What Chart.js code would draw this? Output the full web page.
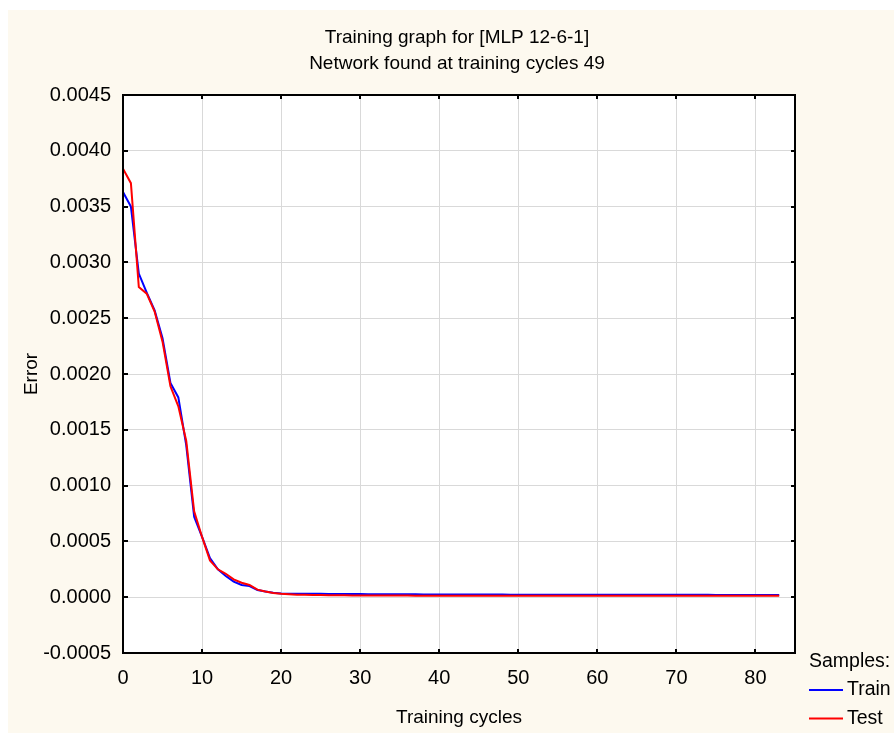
<!DOCTYPE html>
<html>
<head>
<meta charset="utf-8">
<script src="https://cdn.jsdelivr.net/npm/chart.js@4/dist/chart.umd.min.js"></script>
<style>
  html, body { margin: 0; padding: 0; background: #fff; }
  canvas { display: block; }
</style>
</head>
<body>
<canvas id="chart" width="894" height="733"></canvas>
<script>
// training graph - error per cycle, train vs test

const cycles = [
  0, 1, 2, 3, 4, 5, 6, 7, 8, 9, 10, 11, 12, 13, 14, 15, 16, 17, 18, 19,
  20, 21, 22, 23, 24, 25, 26, 27, 28, 29, 30, 31, 32, 33, 34, 35, 36, 37, 38, 39,
  40, 41, 42, 43, 44, 45, 46, 47, 48, 49, 50, 51, 52, 53, 54, 55, 56, 57, 58, 59,
  60, 61, 62, 63, 64, 65, 66, 67, 68, 69, 70, 71, 72, 73, 74, 75, 76, 77, 78, 79,
  80, 81, 82, 83
];

const trainErr = [
  0.00363, 0.00350, 0.00290, 0.00273, 0.00257, 0.00232, 0.00192, 0.00179, 0.00136, 0.00072,
  0.00054, 0.00035, 0.00025, 0.00019, 0.00014, 0.00011, 0.000100, 0.000065, 0.000052, 0.000040,
  0.000034, 0.000032, 0.000031, 0.000031, 0.000030, 0.000030, 0.000029, 0.000029, 0.000028, 0.000028,
  0.000028, 0.000027, 0.000027, 0.000027, 0.000026, 0.000026, 0.000026, 0.000026, 0.000025, 0.000025,
  0.000025, 0.000025, 0.000025, 0.000024, 0.000024, 0.000024, 0.000024, 0.000024, 0.000024, 0.000023,
  0.000023, 0.000023, 0.000023, 0.000023, 0.000023, 0.000023, 0.000022, 0.000022, 0.000022, 0.000022,
  0.000022, 0.000022, 0.000022, 0.000022, 0.000022, 0.000021, 0.000021, 0.000021, 0.000021, 0.000021,
  0.000021, 0.000021, 0.000021, 0.000021, 0.000021, 0.000020, 0.000020, 0.000020, 0.000020, 0.000020,
  0.000020, 0.000020, 0.000020, 0.000020
];

const testErr = [
  0.00384, 0.00371, 0.00278, 0.00272, 0.00256, 0.00229, 0.00189, 0.00171, 0.00140, 0.00077,
  0.00054, 0.00033, 0.00025, 0.00021, 0.00016, 0.00013, 0.000110, 0.000068, 0.000052, 0.000038,
  0.000030, 0.000026, 0.000023, 0.000021, 0.000020, 0.000019, 0.000018, 0.000017, 0.000017, 0.000016,
  0.000016, 0.000016, 0.000015, 0.000015, 0.000015, 0.000015, 0.000015, 0.000014, 0.000014, 0.000014,
  0.000014, 0.000014, 0.000014, 0.000014, 0.000014, 0.000013, 0.000013, 0.000013, 0.000013, 0.000013,
  0.000013, 0.000013, 0.000013, 0.000013, 0.000013, 0.000013, 0.000013, 0.000012, 0.000012, 0.000012,
  0.000012, 0.000012, 0.000012, 0.000012, 0.000012, 0.000012, 0.000012, 0.000012, 0.000012, 0.000012,
  0.000012, 0.000012, 0.000012, 0.000012, 0.000012, 0.000012, 0.000012, 0.000012, 0.000012, 0.000012,
  0.000012, 0.000012, 0.000012, 0.000012
];

const titleLines = ["Training graph for [MLP 12-6-1]", "Network found at training cycles 49"];
const FONT = "'Liberation Sans', Arial, sans-serif";

// background: white strip on top/left, cream panel, white plot area
const bgPlugin = {
  id: "bg",
  beforeDraw(chart) {
    const { ctx, width, height, chartArea: a } = chart;
    ctx.save();
    ctx.fillStyle = "#ffffff";
    ctx.fillRect(0, 0, width, height);
    ctx.fillStyle = "#fdf9ef";
    ctx.fillRect(8, 10, width - 8, height - 10);
    ctx.fillStyle = "#ffffff";
    ctx.fillRect(a.left, a.top, a.right - a.left, a.bottom - a.top);
    ctx.restore();
  }
};

// two title lines, centred over the plot area (not the whole canvas)
const titlePlugin = {
  id: "plotTitle",
  afterDraw(chart) {
    const { ctx, chartArea: a } = chart;
    const cx = (a.left + a.right) / 2 - 2;
    ctx.save();
    ctx.font = "19px " + FONT;
    ctx.fillStyle = "#000";
    ctx.textAlign = "center";
    ctx.textBaseline = "middle";
    ctx.fillText(titleLines[0], cx, 38);
    ctx.fillText(titleLines[1], cx, 64);
    ctx.restore();
  }
};

// black frame with small inward tick marks on all four sides
const framePlugin = {
  id: "frame",
  afterDatasetsDraw(chart) {
    const { ctx, chartArea: a, scales } = chart;
    ctx.save();
    ctx.strokeStyle = "#000";
    ctx.lineWidth = 2;
    ctx.beginPath();
    scales.x.ticks.forEach(t => {
      const px = Math.round(scales.x.getPixelForValue(t.value));
      ctx.moveTo(px, a.bottom); ctx.lineTo(px, a.bottom - 4);
      ctx.moveTo(px, a.top); ctx.lineTo(px, a.top + 4);
    });
    scales.y.ticks.forEach(t => {
      const py = Math.round(scales.y.getPixelForValue(t.value));
      ctx.moveTo(a.left, py); ctx.lineTo(a.left + 5, py);
      ctx.moveTo(a.right, py); ctx.lineTo(a.right - 4, py);
    });
    ctx.stroke();
    ctx.strokeRect(a.left, a.top, a.right - a.left, a.bottom - a.top);
    ctx.restore();
  }
};

// "Samples:" legend in the bottom-right corner
const legendPlugin = {
  id: "samplesLegend",
  afterDraw(chart) {
    const { ctx } = chart;
    ctx.save();
    ctx.font = "19.5px " + FONT;
    ctx.fillStyle = "#000";
    ctx.textBaseline = "middle";
    ctx.textAlign = "left";
    ctx.fillText("Samples:", 809, 662);
    chart.data.datasets.forEach((ds, i) => {
      const y = 690 + i * 28.5;
      ctx.strokeStyle = ds.borderColor;
      ctx.lineWidth = 2;
      ctx.beginPath();
      ctx.moveTo(809, y); ctx.lineTo(843, y);
      ctx.stroke();
      ctx.fillText(ds.label, 847, y);
    });
    ctx.restore();
  }
};

Chart.defaults.color = "#000";
Chart.defaults.font.family = FONT;
Chart.defaults.font.size = 19;

new Chart(document.getElementById("chart"), {
  type: "line",
  data: {
    labels: cycles,
    datasets: [
      { label: "Train", data: trainErr, borderColor: "#0000ff", borderWidth: 2, pointRadius: 0, tension: 0, order: 1 },
      { label: "Test", data: testErr, borderColor: "#ff0000", borderWidth: 2, pointRadius: 0, tension: 0, order: 0 }
    ]
  },
  options: {
    responsive: false,
    animation: false,
    devicePixelRatio: 1,
    layout: { padding: { left: 0, right: 99, top: 95, bottom: 0 } },
    plugins: {
      legend: { display: false },
      tooltip: { enabled: false },
      title: { display: false }
    },
    scales: {
      x: {
        type: "linear",
        min: 0,
        max: 85,
        grid: { color: "#d9d9d9", lineWidth: 1, drawTicks: false },
        border: { display: false },
        ticks: { stepSize: 10, includeBounds: false, padding: 13, maxRotation: 0, font: { size: 20 } },
        title: { display: true, text: "Training cycles", padding: { top: 4, bottom: 4 } },
        afterFit(scale) { scale.height = 80; }
      },
      y: {
        min: -0.0005,
        max: 0.0045,
        grid: { color: "#d9d9d9", lineWidth: 1, drawTicks: false },
        border: { display: false },
        ticks: {
          stepSize: 0.0005,
          padding: 12,
          font: { size: 20 },
          callback: v => (Math.abs(v) < 1e-12 ? 0 : v).toFixed(4)
        },
        title: { display: true, text: "Error", padding: { top: 20, bottom: 4 } },
        afterFit(scale) { scale.width = 123; }
      }
    }
  },
  plugins: [bgPlugin, framePlugin, legendPlugin, titlePlugin]
});
</script>
</body>
</html>
